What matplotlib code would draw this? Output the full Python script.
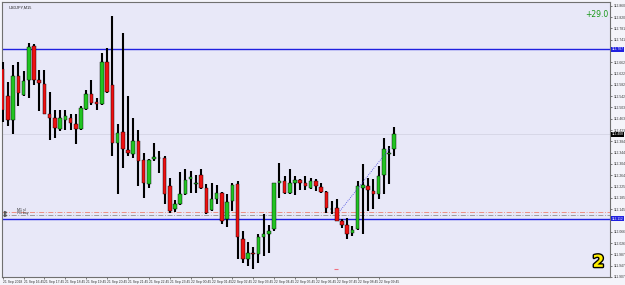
import matplotlib
matplotlib.use("Agg")
import matplotlib.pyplot as plt
import matplotlib.patheffects as pe
import numpy as np

# USDJPY M15 candles (open, high, low, close)
opens = [112.639, 112.542, 112.460, 112.614, 112.548, 112.598, 112.719, 112.598, 112.586, 112.481,
         112.466, 112.427, 112.460, 112.466, 112.445, 112.427, 112.497, 112.551, 112.521, 112.516,
         112.664, 112.583, 112.378, 112.416, 112.353, 112.338, 112.384, 112.317, 112.233, 112.320,
         112.324, 112.326, 112.227, 112.145, 112.163, 112.198, 112.250, 112.234, 112.264, 112.221,
         112.142, 112.180, 112.201, 112.110, 112.174, 112.233, 112.042, 111.970, 111.993, 111.988,
         112.049, 112.058, 112.075, 112.238, 112.244, 112.203, 112.238, 112.248, 112.236, 112.221,
         112.244, 112.224, 112.206, 112.145, 112.151, 112.104, 112.089, 112.063, 112.075, 112.221,
         112.227, 112.209, 112.198, 112.264, 112.338, 112.357]
highs = [112.661, 112.591, 112.653, 112.661, 112.629, 112.728, 112.726, 112.633, 112.635, 112.556,
         112.495, 112.495, 112.495, 112.478, 112.478, 112.506, 112.563, 112.600, 112.536, 112.693,
         112.711, 112.824, 112.443, 112.763, 112.544, 112.466, 112.422, 112.343, 112.320, 112.378,
         112.349, 112.332, 112.254, 112.177, 112.275, 112.287, 112.279, 112.264, 112.287, 112.233,
         112.236, 112.229, 112.206, 112.198, 112.238, 112.244, 112.069, 112.031, 112.011, 112.058,
         112.128, 112.089, 112.238, 112.306, 112.262, 112.287, 112.262, 112.250, 112.261, 112.254,
         112.250, 112.236, 112.209, 112.174, 112.180, 112.112, 112.116, 112.087, 112.244, 112.303,
         112.254, 112.250, 112.297, 112.396, 112.367, 112.434]
lows = [112.450, 112.439, 112.408, 112.509, 112.542, 112.536, 112.583, 112.489, 112.478, 112.390,
        112.397, 112.419, 112.425, 112.425, 112.373, 112.425, 112.495, 112.513, 112.495, 112.513,
        112.553, 112.332, 112.198, 112.291, 112.332, 112.326, 112.227, 112.186, 112.221, 112.314,
        112.273, 112.163, 112.133, 112.135, 112.159, 112.194, 112.203, 112.203, 112.215, 112.128,
        112.138, 112.163, 112.093, 112.084, 112.139, 111.970, 111.956, 111.947, 111.935, 111.956,
        111.982, 111.993, 112.069, 112.186, 112.198, 112.198, 112.194, 112.213, 112.213, 112.215,
        112.209, 112.203, 112.133, 112.128, 112.104, 112.081, 112.040, 112.052, 112.071, 112.058,
        112.139, 112.145, 112.180, 112.198, 112.233, 112.332]
closes = [112.495, 112.458, 112.614, 112.553, 112.597, 112.714, 112.600, 112.588, 112.481, 112.466,
          112.431, 112.466, 112.471, 112.448, 112.427, 112.499, 112.551, 112.518, 112.514, 112.664,
          112.556, 112.378, 112.413, 112.355, 112.341, 112.384, 112.314, 112.238, 112.318, 112.329,
          112.326, 112.198, 112.139, 112.163, 112.198, 112.248, 112.259, 112.236, 112.221, 112.133,
          112.180, 112.201, 112.104, 112.171, 112.229, 112.046, 111.970, 111.993, 111.988, 112.046,
          112.058, 112.069, 112.236, 112.244, 112.203, 112.236, 112.248, 112.236, 112.227, 112.244,
          112.227, 112.206, 112.151, 112.147, 112.104, 112.089, 112.058, 112.073, 112.227, 112.229,
          112.213, 112.198, 112.262, 112.355, 112.341, 112.408]

# horizontal levels
upper_level = 112.707
lower_level = 112.112
sl_level = 112.137
buy_level = 112.125
bid = 112.408

# dotted trade line (bar index, price) and small order mark
trade_x = [64.6, 74.2]
trade_price = [112.139, 112.361]
mark_x = 63.9
mark_price = 111.935

# time axis labels, one every 4 bars
date_labels = ["21 Sep 2018", "21 Sep 16:45", "21 Sep 17:45", "21 Sep 18:45", "21 Sep 19:45",
               "21 Sep 20:45", "21 Sep 21:45", "21 Sep 22:45", "21 Sep 23:45", "22 Sep 00:45",
               "22 Sep 01:45", "22 Sep 02:45", "22 Sep 03:45", "22 Sep 04:45", "22 Sep 05:45",
               "22 Sep 06:45", "22 Sep 07:45", "22 Sep 08:45", "22 Sep 09:45"]

small = "Liberation Sans"
W, H = 625, 285
fig = plt.figure(figsize=(W / 100, H / 100), dpi=100)
fig.patch.set_facecolor("#f4f4fa")
ax = fig.add_axes([2 / W, 8 / H, 608 / W, 275 / H])
ax.set_facecolor("#e8e8f8")

x = np.arange(len(opens))
o = np.array(opens)
c = np.array(closes)
colors = np.where(c >= o, "#22c422", "#ee1111")
ax.vlines(x, lows, highs, color="black", lw=1.5, zorder=3)
ax.bar(x, c - o, bottom=o, width=0.68, color=colors, edgecolor="black", lw=0.3, zorder=4)

ax.axhline(upper_level, color="#2020e0", lw=1.0, zorder=2)
ax.axhline(lower_level, color="#2020e0", lw=1.0, zorder=2)
ax.axhline(sl_level, color="#f08070", lw=0.6, ls=(0, (6, 2, 1, 2)), zorder=2)
ax.axhline(buy_level, color="#909090", lw=0.6, ls=(0, (6, 2, 1, 2)), zorder=2)
ax.axhline(bid, color="#d4d4e4", lw=0.6, zorder=1)
ax.plot(trade_x, trade_price, color="#4040e0", lw=0.6, ls=(0, (1, 1.5)), zorder=5)
ax.plot([mark_x], [mark_price], marker="_", ms=3, mew=0.8, color="#f07080", zorder=5)

# small markers at the left end of the order lines
ax.plot([0.4, 0.4], [sl_level, buy_level], ls="none", marker=">", ms=1.5,
        color="#555555", zorder=5)

ax.set_xlim(-0.134, 116.34)
ax.set_ylim(111.9105, 112.873)

# price axis on the right (labels hidden under the level boxes)
yt = 112.860 - 0.0397 * np.arange(25)
yt = np.array([v for v in yt if abs(v - upper_level) > 0.012 and abs(v - lower_level) > 0.012])
ax.yaxis.tick_right()
ax.set_yticks(yt)
ax.set_yticklabels([f"{v:.3f}" for v in yt], fontsize=2.4, color="#333333", family=small)
ax.tick_params(axis="y", length=1.5, width=0.5, pad=1.0, color="#444444")

ax.set_xticks(np.arange(0, 4 * len(date_labels), 4))
ax.set_xticklabels(date_labels, fontsize=2.4, color="#333333", ha="left", family=small)
ax.tick_params(axis="x", length=1.5, width=0.5, pad=0.8, color="#444444")

for s in ax.spines.values():
    s.set_color("#707070")
    s.set_linewidth(0.8)

def price_box(val, bg):
    ax.text(1.0025, val, f"{val:.3f}", transform=ax.get_yaxis_transform(), fontsize=2.4,
            family=small, color="white", va="center", ha="left", clip_on=False, zorder=10,
            bbox=dict(boxstyle="square,pad=0.2", fc=bg, ec="none"))

price_box(upper_level, "#2020e0")
price_box(lower_level, "#2020e0")
price_box(bid, "black")

ax.text(0.011, 0.988, "USDJPY,M15", transform=ax.transAxes, fontsize=2.8, color="#222222",
        va="top", ha="left", family=small)
ax.text(0.997, 0.955, "+29.0", transform=ax.transAxes, fontsize=5.5, color="#189818",
        va="center", ha="right")
ax.text(0.024, sl_level, "M1 sl", transform=ax.get_yaxis_transform(), fontsize=2.6,
        color="#333333", va="bottom", ha="left", family=small)
ax.text(0.024, buy_level, "PB buy", transform=ax.get_yaxis_transform(), fontsize=2.6,
        color="#333333", va="bottom", ha="left", family=small)
ax.text(0.981, 0.055, "2", transform=ax.transAxes, fontsize=12, fontweight="bold",
        color="#ffee00", va="center", ha="center",
        path_effects=[pe.withStroke(linewidth=2, foreground="black")])

fig.savefig("out.png", dpi=100, facecolor=fig.get_facecolor())
